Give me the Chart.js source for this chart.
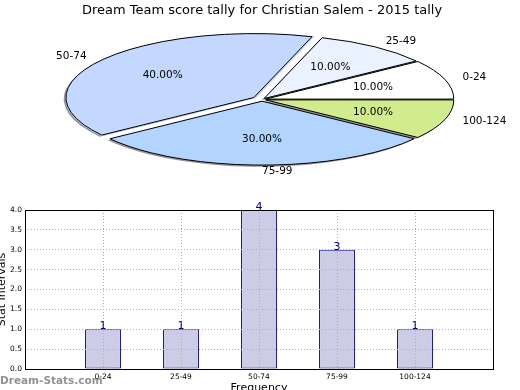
<!DOCTYPE html>
<html>
<head>
<meta charset="utf-8">
<script src="https://cdn.jsdelivr.net/npm/chart.js@4.4.0/dist/chart.umd.min.js"></script>
<style>
  html, body { margin: 0; padding: 0; background: #fff; overflow: hidden; }
  #pagina { position: relative; width: 520px; height: 390px; overflow: hidden; }
  #graficoPizza { position: absolute; left: 0; top: 0; }
  #graficoBarras { position: absolute; left: 0; top: 200px; }
  #marca { position: absolute; left: 0; top: 375px; font: bold 10.5px/11px "DejaVu Sans"; color: rgba(110, 110, 110, 0.75); white-space: nowrap; }
</style>
</head>
<body>
<div id="pagina">
  <canvas id="graficoPizza" width="520" height="390"></canvas>
  <canvas id="graficoBarras" width="520" height="200"></canvas>
  <div id="marca">Dream-Stats.com</div>
</div>
<script>
// Dados do gráfico
const titulo = 'Dream Team score tally for Christian Salem - 2015 tally';
const faixas = ['0-24', '25-49', '50-74', '75-99', '100-124'];
const contagens = [1, 1, 4, 3, 1];
const ticksY = [0.0, 0.5, 1.0, 1.5, 2.0, 2.5, 3.0, 3.5, 4.0];

// Estilo da pizza (cores e deslocamento de cada fatia)
const coresPizza = ['#ffffff', '#ebf2ff', '#c4d8ff', '#b3d4ff', '#d1ec8c'];
const deslocPizza = [11.3, 10, 28.3, 19.1, 11.3];

const FONTE = 'DejaVu Sans';
const ACHATAMENTO = 0.34; // a pizza é uma elipse (eixo y achatado)
const CENTRO_Y = 99.5;    // centro vertical da elipse na página

// Chart.js desenha no sentido horário a partir do leste, então inverte a ordem
const inv = a => a.slice().reverse();

// Centro e ângulos de uma fatia já na elipse
function geometriaFatia(el) {
  const p = el.getProps(['x', 'y', 'startAngle', 'endAngle', 'outerRadius', 'circumference'], true);
  const d = (el.options.offset || 0) / 4;
  const fix = 1 - Math.sin(Math.min(Math.PI, p.circumference));
  const meio = (p.startAngle + p.endAngle) / 2;
  const t = d * (1 + fix);
  return {
    x: p.x + Math.cos(meio) * t,
    y: CENTRO_Y + Math.sin(meio) * t * ACHATAMENTO,
    r: p.outerRadius, ini: p.startAngle, fim: p.endAngle, meio: meio
  };
}

function caminhoFatia(ctx, f, dx, dy) {
  ctx.beginPath();
  ctx.moveTo(f.x + dx, f.y + dy);
  ctx.ellipse(f.x + dx, f.y + dy, f.r, f.r * ACHATAMENTO, 0, f.ini, f.fim);
  ctx.closePath();
}

const pluginElipse = {
  id: 'elipse',
  beforeDatasetsDraw(chart) {
    const ctx = chart.ctx;
    const arcos = chart.getDatasetMeta(0).data;
    // sombras por baixo de todas as fatias
    ctx.save();
    ctx.fillStyle = 'rgba(40, 40, 40, 0.5)';
    arcos.forEach(el => {
      caminhoFatia(ctx, geometriaFatia(el), -2.2, 1.6);
      ctx.fill();
    });
    ctx.restore();
    // achata o círculo desenhado pela biblioteca
    ctx.save();
    ctx.translate(0, CENTRO_Y);
    ctx.scale(1, ACHATAMENTO);
    ctx.translate(0, -arcos[0].y);
  },
  afterDatasetsDraw(chart) {
    const ctx = chart.ctx;
    ctx.restore();
    const arcos = chart.getDatasetMeta(0).data;
    const valores = chart.data.datasets[0].data;
    const total = valores.reduce((s, v) => s + v, 0);
    ctx.save();
    ctx.strokeStyle = '#000';
    ctx.lineWidth = 1;
    arcos.forEach(el => {
      caminhoFatia(ctx, geometriaFatia(el), 0, 0);
      ctx.stroke();
    });
    ctx.fillStyle = '#000';
    ctx.font = '10.5px "' + FONTE + '"';
    ctx.textBaseline = 'middle';
    arcos.forEach((el, i) => {
      const f = geometriaFatia(el);
      const c = Math.cos(f.meio), s = Math.sin(f.meio);
      // rótulo da faixa (1.1 do raio)
      ctx.textAlign = c >= -1e-9 ? 'left' : 'right';
      ctx.fillText(chart.data.labels[i], f.x + 1.1 * f.r * c, f.y + 1.1 * f.r * ACHATAMENTO * s);
      // percentual (0.6 do raio)
      ctx.textAlign = 'center';
      const pct = (valores[i] / total * 100).toFixed(2) + '%';
      ctx.fillText(pct, f.x + 0.6 * f.r * c, f.y + 0.6 * f.r * ACHATAMENTO * s);
    });
    ctx.restore();
  }
};

new Chart(document.getElementById('graficoPizza'), {
  type: 'pie',
  data: {
    labels: inv(faixas),
    datasets: [{
      data: inv(contagens),
      backgroundColor: inv(coresPizza),
      offset: inv(deslocPizza),
      borderWidth: 0
    }]
  },
  options: {
    responsive: false,
    animation: false,
    rotation: 90,
    radius: 188,
    clip: false,
    layout: { padding: { left: 4 } },
    plugins: {
      legend: { display: false },
      tooltip: { enabled: false },
      title: {
        display: true,
        text: titulo,
        color: '#000',
        font: { family: FONTE, size: 13, weight: 'normal' },
        padding: { top: 3, bottom: 0 }
      }
    }
  },
  plugins: [pluginElipse]
});

// Rótulos das barras e moldura do gráfico
const pluginValores = {
  id: 'valores',
  afterDraw(chart) {
    const ctx = chart.ctx;
    const a = chart.chartArea;
    ctx.save();
    ctx.strokeStyle = '#000';
    ctx.lineWidth = 1;
    ctx.strokeRect(Math.round(a.left) + 0.5, Math.round(a.top) + 0.5,
      Math.round(a.right - a.left), Math.round(a.bottom - a.top));
    ctx.font = '11px "' + FONTE + '"';
    ctx.fillStyle = '#000080';
    ctx.textAlign = 'center';
    ctx.textBaseline = 'alphabetic';
    const dados = chart.data.datasets[0].data;
    chart.getDatasetMeta(0).data.forEach((barra, i) => {
      if (dados[i] == null) return;
      ctx.fillText(String(dados[i]), barra.x, barra.y);
    });
    ctx.restore();
  }
};

const fonteTick = { family: FONTE, size: 7.5 };
const fonteTitulo = { family: FONTE, size: 11 };

new Chart(document.getElementById('graficoBarras'), {
  type: 'bar',
  data: {
    labels: ['', ...faixas, ''],
    datasets: [{
      data: [null, ...contagens, null],
      backgroundColor: '#ccccE6',
      borderColor: '#000080',
      borderWidth: 1,
      borderSkipped: false,
      barPercentage: 0.46,
      categoryPercentage: 1
    }]
  },
  options: {
    responsive: false,
    animation: false,
    layout: { padding: { top: 10, right: 27, left: 0, bottom: 0 } },
    plugins: { legend: { display: false }, tooltip: { enabled: false } },
    scales: {
      x: {
        offset: false,
        grid: { color: '#b0b0b0', drawTicks: false, offset: false, z: 1 },
        border: { display: false, dash: [1, 2] },
        ticks: { font: fonteTick, color: '#000', padding: 4, maxRotation: 0, autoSkip: false },
        title: { display: true, text: 'Frequency', color: '#000', font: fonteTitulo, padding: { top: 0, bottom: 5 } },
        afterFit(s) { s.height = 31; }
      },
      y: {
        min: 0,
        max: 4,
        afterBuildTicks(s) { s.ticks = ticksY.map(v => ({ value: v })); },
        grid: { color: '#b0b0b0', drawTicks: false, z: 1 },
        border: { display: false, dash: [1, 2] },
        ticks: { font: fonteTick, color: '#000', padding: 3, callback: v => v.toFixed(1) },
        title: { display: true, text: 'Stat Intervals', color: '#000', font: fonteTitulo, padding: { top: -4.5, bottom: 0 } },
        afterFit(s) { s.width = 25; }
      }
    }
  },
  plugins: [pluginValores]
});
</script>
</body>
</html>
